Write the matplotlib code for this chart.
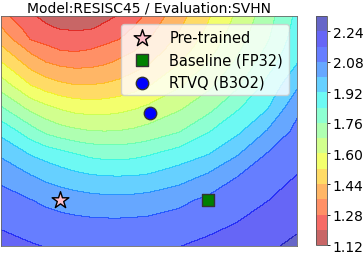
import numpy as np
import matplotlib
matplotlib.use("Agg")
from matplotlib import pyplot as plt

# loss landscape grid (rows top -> bottom)
xs = [-0.4, -0.2, -0.1, 0.0, 0.1, 0.2, 0.3, 0.4, 0.5, 0.6, 0.8, 1.0, 1.2, 1.4, 1.6]
ys = [1.2, 1.125, 1.05, 0.975, 0.9, 0.75, 0.6, 0.45, 0.3, 0.15, 0.0, -0.15, -0.3]
loss = [
    [1.310, 1.206, 1.189, 1.179, 1.175, 1.179, 1.189, 1.203, 1.251, 1.302, 1.410, 1.511, 1.617, 1.724, 1.859],
    [1.363, 1.243, 1.208, 1.195, 1.192, 1.194, 1.209, 1.245, 1.284, 1.330, 1.432, 1.529, 1.633, 1.738, 1.870],
    [1.411, 1.276, 1.248, 1.230, 1.222, 1.230, 1.251, 1.280, 1.320, 1.359, 1.454, 1.549, 1.650, 1.752, 1.882],
    [1.465, 1.347, 1.314, 1.282, 1.275, 1.285, 1.310, 1.334, 1.358, 1.398, 1.483, 1.574, 1.671, 1.775, 1.897],
    [1.523, 1.403, 1.361, 1.339, 1.330, 1.334, 1.348, 1.371, 1.402, 1.433, 1.513, 1.601, 1.694, 1.802, 1.914],
    [1.643, 1.520, 1.482, 1.457, 1.442, 1.441, 1.449, 1.465, 1.488, 1.516, 1.589, 1.662, 1.747, 1.861, 1.987],
    [1.770, 1.659, 1.623, 1.593, 1.574, 1.566, 1.568, 1.578, 1.594, 1.618, 1.669, 1.733, 1.833, 1.915, 2.062],
    [1.896, 1.794, 1.743, 1.714, 1.695, 1.683, 1.680, 1.683, 1.693, 1.709, 1.753, 1.834, 1.904, 2.005, 2.102],
    [1.988, 1.915, 1.891, 1.868, 1.843, 1.823, 1.813, 1.811, 1.819, 1.834, 1.877, 1.918, 1.995, 2.085, 2.134],
    [2.061, 2.009, 1.983, 1.962, 1.946, 1.934, 1.926, 1.925, 1.927, 1.934, 1.966, 2.018, 2.082, 2.122, 2.164],
    [2.114, 2.082, 2.065, 2.050, 2.038, 2.029, 2.024, 2.023, 2.026, 2.033, 2.061, 2.096, 2.127, 2.158, 2.195],
    [2.149, 2.125, 2.115, 2.108, 2.102, 2.098, 2.096, 2.096, 2.098, 2.101, 2.114, 2.134, 2.162, 2.194, 2.226],
    [2.187, 2.167, 2.158, 2.152, 2.146, 2.142, 2.141, 2.141, 2.142, 2.146, 2.158, 2.181, 2.205, 2.228, 2.256],
]
levels = [1.12, 1.20, 1.28, 1.36, 1.44, 1.52, 1.60, 1.68, 1.76, 1.84,
          1.92, 2.00, 2.08, 2.16, 2.24, 2.32]
cbar_ticks = [1.12, 1.28, 1.44, 1.60, 1.76, 1.92, 2.08, 2.24]

points = {
    "Pre-trained": (0.0, 0.0),
    "Baseline (FP32)": (1.0, 0.0),
    "RTVQ (B3O2)": (0.61, 0.57),
}

X, Y = np.meshgrid(xs, ys)
Z = np.array(loss)

fig = plt.figure(figsize=(3.63, 2.55), dpi=100)
ax = fig.add_axes([0.003, 0.031, 0.815, 0.902])
cax = fig.add_axes([0.870, 0.035, 0.031, 0.898])

cs = ax.contourf(X, Y, Z, levels=levels, cmap="jet_r", alpha=0.6)
cb = fig.colorbar(cs, cax=cax, ticks=cbar_ticks)
cb.ax.tick_params(labelsize=10, length=2.5, width=0.6, pad=1.5)
cb.outline.set_edgecolor("#555555")
cb.outline.set_linewidth(0.6)

ax.scatter(*points["Pre-trained"], marker="*", s=160, c="pink",
           edgecolors="black", linewidths=1, label="Pre-trained", zorder=3)
ax.scatter(*points["Baseline (FP32)"], marker="s", s=80, c="green",
           edgecolors="#333333", linewidths=1, label="Baseline (FP32)", zorder=3)
ax.scatter(*points["RTVQ (B3O2)"], marker="o", s=80, c="blue",
           edgecolors="#333333", linewidths=1, label="RTVQ (B3O2)", zorder=3)

ax.set_xlim(xs[0], xs[-1])
ax.set_ylim(ys[-1], ys[0])
ax.set_xticks([])
ax.set_yticks([])
for sp in ax.spines.values():
    sp.set_edgecolor("#666666")
    sp.set_linewidth(0.6)

ax.set_title("Model:RESISC45 / Evaluation:SVHN", fontsize=10, pad=3)
ax.legend(loc="upper right", fontsize=10.5, handletextpad=0.9,
          borderaxespad=0.55, labelspacing=0.5)

plt.savefig("out.png", dpi=100)
